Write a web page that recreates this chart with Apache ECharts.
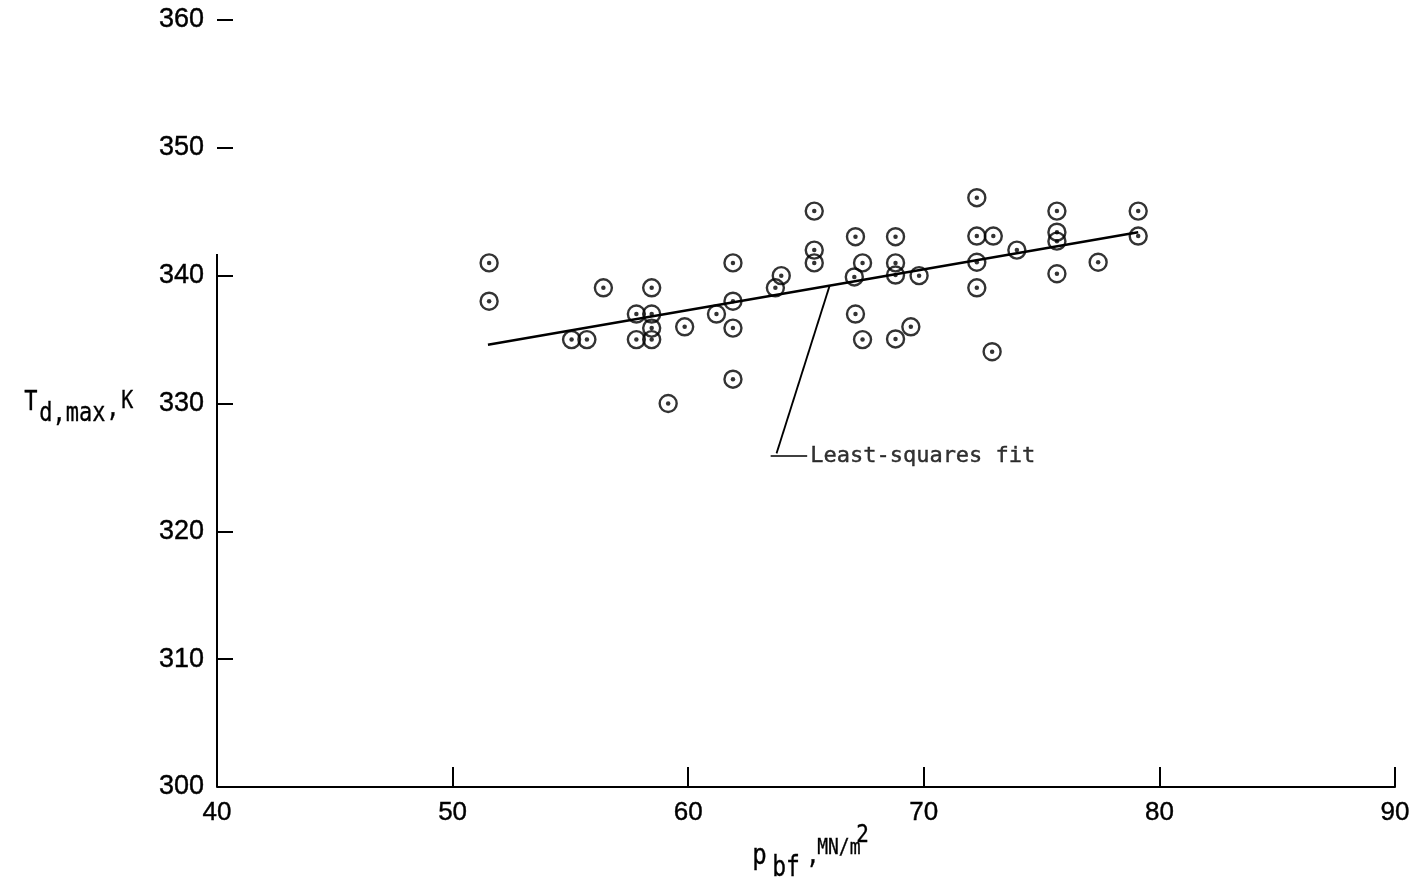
<!DOCTYPE html>
<html><head><meta charset="utf-8">
<script src="https://cdn.jsdelivr.net/npm/echarts@6/dist/echarts.min.js"></script>
<style>html,body{margin:0;padding:0;background:#fff}#c{width:1417px;height:887px}</style>
</head><body><div id="c"></div>
<script>
// Data
const pbf = [51.55, 51.55, 55.05, 55.7, 56.4, 57.8, 57.8, 58.45, 58.45, 58.45, 58.45, 59.15, 59.85,
  61.2, 61.9, 61.9, 61.9, 61.9, 63.7, 63.95, 65.35, 65.35, 65.35, 67.1, 67.4, 67.05, 67.1, 67.4,
  68.8, 68.8, 68.8, 69.8, 69.45, 68.8, 72.25, 72.25, 72.95, 72.25, 72.25, 72.9, 73.95,
  75.65, 75.65, 75.65, 75.65, 77.4, 79.1, 79.1];
const tdmax = [341.0, 338.0, 335.0, 335.0, 339.05, 337.0, 335.0, 339.05, 337.0, 335.9, 335.0, 330.0, 336.0,
  337.0, 341.0, 338.0, 335.9, 331.9, 339.05, 340.0, 345.05, 342.0, 341.0, 343.05, 341.0, 339.9, 337.0, 335.0,
  343.05, 341.0, 340.05, 340.0, 336.0, 335.05, 346.1, 343.1, 343.1, 341.05, 339.05, 334.05, 342.0,
  345.05, 343.4, 342.7, 340.15, 341.05, 345.05, 343.1];
// least-squares fit line end points
const fitX = [51.5, 79.1];
const fitY = [334.6, 343.4];
// leader line for annotation
const leaderX = [66.0, 63.75];
const leaderY = [339.2, 326.1];
const leaderBarX = [63.5, 65.05];
const leaderBarY = [325.9, 325.9];
const annotText = 'Least-squares fit';
const xTicks = [40, 50, 60, 70, 80, 90];
const yTicks = [300, 310, 320, 330, 340, 350, 360];
const yAxisLineTop = 341.7;

const pts = pbf.map((x, i) => [x, tdmax[i]]);
const NARROW = '"Liberation Sans Narrow", "Liberation Sans", sans-serif';

function txt(left, top, text, size, sy) {
  return {type: 'text', left: left, top: top, scaleY: sy || 1.2, originY: 0,
    style: {text: text, fontFamily: 'DejaVu Sans Mono', fontSize: size, fill: '#000',
      stroke: '#000', lineWidth: 0.3}};
}

const chart = echarts.init(document.getElementById('c'), null, {renderer: 'canvas'});
chart.setOption({
  animation: false,
  backgroundColor: '#fff',
  grid: {left: 217, right: 22, top: 20, bottom: 100, containLabel: false},
  xAxis: {
    type: 'value', min: xTicks[0], max: xTicks[xTicks.length - 1], interval: 10,
    axisLine: {show: true, onZero: false, lineStyle: {color: '#000', width: 2}},
    axisTick: {show: true, inside: true, length: 20, lineStyle: {color: '#000', width: 2}},
    axisLabel: {fontFamily: NARROW, fontSize: 26, color: '#000', margin: 13,
      textBorderColor: '#000', textBorderWidth: 0.4},
    splitLine: {show: false}
  },
  yAxis: {
    type: 'value', min: yTicks[0], max: yTicks[yTicks.length - 1], interval: 10,
    axisLine: {show: false},
    axisTick: {show: true, inside: true, length: 16, lineStyle: {color: '#000', width: 2}},
    axisLabel: {fontFamily: NARROW, fontSize: 27, color: '#000', margin: 13,
      textBorderColor: '#000', textBorderWidth: 0.4},
    splitLine: {show: false}
  },
  graphic: [
    txt(24, 390, 'T', 22),
    txt(39, 401, 'd,max', 22),
    txt(106, 396, ',', 22),
    txt(121, 390, 'K', 20),
    txt(752, 842, 'p', 24),
    txt(772, 855, 'bf', 23),
    txt(806, 843, ',', 22),
    txt(817, 837, 'MN/m', 18),
    txt(856, 823, '2', 21)
  ],
  series: [
    {type: 'line', data: [[xTicks[0], yTicks[0]], [xTicks[0], yAxisLineTop]], symbol: 'none', silent: true,
     lineStyle: {color: '#000', width: 2}},
    {type: 'line', data: [[fitX[0], fitY[0]], [fitX[1], fitY[1]]], symbol: 'none', silent: true,
     lineStyle: {color: '#000', width: 2.5}},
    {type: 'line', data: [[leaderX[0], leaderY[0]], [leaderX[1], leaderY[1]]], symbol: 'none', silent: true,
     lineStyle: {color: '#000', width: 1.8}},
    {type: 'line', data: [[leaderBarX[0], leaderBarY[0]], [leaderBarX[1], leaderBarY[1]]], symbol: 'none', silent: true,
     lineStyle: {color: '#000', width: 1.5}},
    {type: 'scatter', data: pts, symbol: 'circle', symbolSize: 17, silent: true,
     itemStyle: {color: 'rgba(255,255,255,0)', borderColor: '#000', borderWidth: 2.4}},
    {type: 'scatter', data: pts, symbol: 'circle', symbolSize: 4.5, silent: true,
     itemStyle: {color: '#000'}},
    {type: 'scatter', data: [[leaderBarX[1], leaderBarY[1]]], symbolSize: 0, silent: true,
     label: {show: true, position: 'right', distance: 3, formatter: annotText,
       fontFamily: 'DejaVu Sans Mono', fontSize: 22, color: '#000',
       textBorderColor: '#000', textBorderWidth: 0.4}}
  ]
});
</script>
</body></html>
